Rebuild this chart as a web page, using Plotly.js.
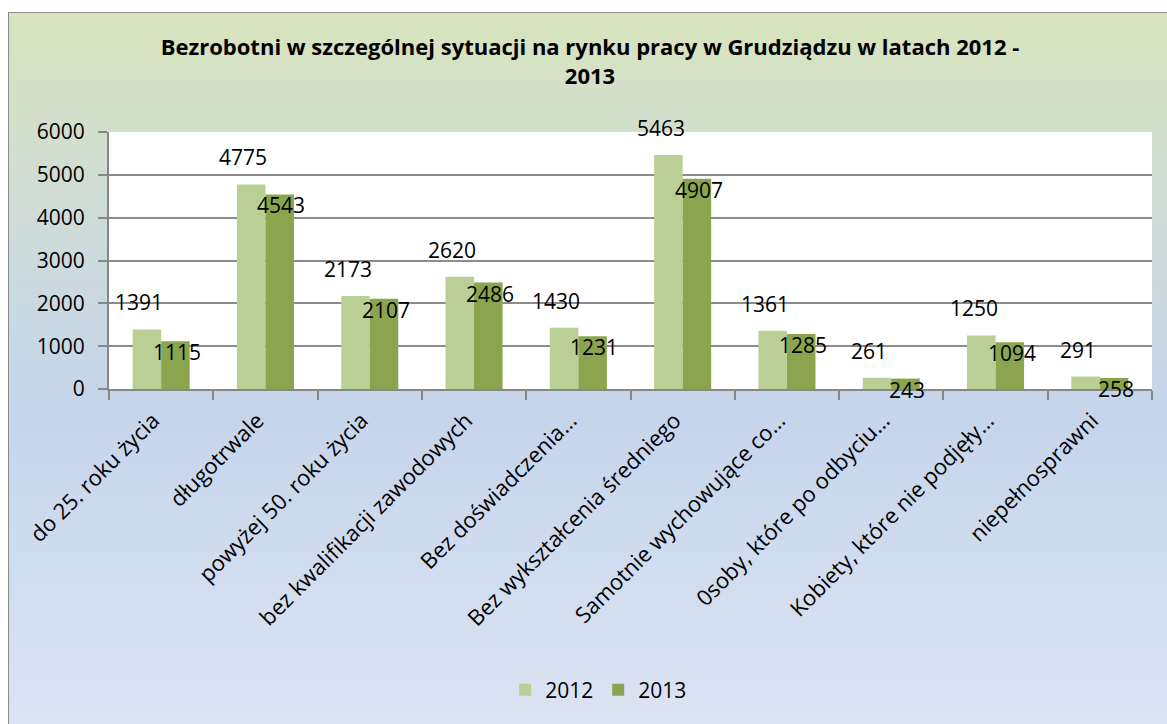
<!DOCTYPE html>
<html>
<head>
<meta charset="utf-8">
<script src="https://cdn.plot.ly/plotly-3.0.1.min.js"></script>
<style>
  html, body { margin:0; padding:0; width:1167px; height:724px; overflow:hidden; background:#ffffff; }
  #bg { position:absolute; left:8px; top:12px; width:1200px; height:760px;
        border:1.5px solid #8a8a8a; box-sizing:border-box;
        background: linear-gradient(to bottom, #d8e4bd 0%, #cfdcd6 25%, #c5d5ec 53%, #dfe6f4 100%); }
  #chart { position:absolute; left:0; top:0; width:1167px; height:724px; }
</style>
</head>
<body>
<div id="bg"></div>
<div id="chart"></div>
<script>
const categories = [
  "do 25. roku życia",
  "długotrwale",
  "powyżej 50. roku życia",
  "bez kwalifikacji zawodowych",
  "Bez doświadczenia…",
  "Bez wykształcenia średniego",
  "Samotnie wychowujące co…",
  "0soby, które po odbyciu…",
  "Kobiety, które nie podjęły…",
  "niepełnosprawni"
];
const values2012 = [1391, 4775, 2173, 2620, 1430, 5463, 1361, 261, 1250, 291];
const values2013 = [1115, 4543, 2107, 2486, 1231, 4907, 1285, 243, 1094, 258];
const seriesNames = ["2012", "2013"];
const yTicks = [0, 1000, 2000, 3000, 4000, 5000, 6000];

const FONT = "'Open Sans', Lato, sans-serif";
const colLight = "#b9cf95";
const colDark = "#8aa54e";

const traces = [
  { type:"bar", name:seriesNames[0], x:categories, y:values2012, marker:{color:colLight}, hoverinfo:"skip" },
  { type:"bar", name:seriesNames[1], x:categories, y:values2013, marker:{color:colDark}, hoverinfo:"skip" }
];

// data labels placed relative to each bar top
const annotations = [];
categories.forEach((c, i) => {
  annotations.push({ x:c, y:values2012[i], xref:"x", yref:"y", text:String(values2012[i]),
    showarrow:false, xanchor:"center", yanchor:"middle", xshift:-22, yshift:27,
    font:{family:FONT, size:21, color:"#000"} });
  annotations.push({ x:c, y:values2013[i], xref:"x", yref:"y", text:String(values2013[i]),
    showarrow:false, xanchor:"center", yanchor:"middle", xshift:16, yshift:-11,
    font:{family:FONT, size:21, color:"#000"} });
});

const layout = {
  width:1167, height:724,
  paper_bgcolor:"rgba(0,0,0,0)",
  plot_bgcolor:"#ffffff",
  margin:{l:109, r:15, t:132, b:335},
  font:{family:FONT, size:21, color:"#000"},
  title:{
    text:"<b>Bezrobotni w szczególnej sytuacji na rynku pracy w Grudziądzu w latach 2012 -<br>2013</b>",
    font:{family:FONT, size:22, color:"#000"},
    x:590/1167, xanchor:"center", xref:"container",
    y:1 - 55/724, yanchor:"middle", yref:"container"
  },
  barmode:"group",
  bargap:0.453,
  bargroupgap:0,
  showlegend:true,
  legend:{
    orientation:"h", xref:"container", yref:"container",
    x:0.513, xanchor:"center", y:1 - 690/724, yanchor:"middle",
    font:{family:FONT, size:21, color:"#000"}, bgcolor:"rgba(0,0,0,0)"
  },
  xaxis:{
    type:"category",
    tickangle:-45,
    tickson:"boundaries",
    ticks:"outside", ticklen:9, tickwidth:2, tickcolor:"#878787",
    showline:true, linecolor:"#878787", linewidth:2,
    showgrid:false,
    ticklabelshift:-8,
    ticklabelstandoff:8,
    tickfont:{family:FONT, size:22, color:"#000"},
    fixedrange:true
  },
  yaxis:{
    range:[0, 6000],
    tickvals:yTicks,
    ticktext:yTicks.map(String),
    ticks:"outside", ticklen:9, tickwidth:2, tickcolor:"#878787",
    showline:true, linecolor:"#878787", linewidth:2,
    showgrid:true, gridcolor:"#8c8c8c", gridwidth:2,
    zeroline:false,
    ticklabelstandoff:9,
    tickfont:{family:FONT, size:21, color:"#000"},
    fixedrange:true
  },
  annotations:annotations
};

Plotly.newPlot("chart", traces, layout, {displayModeBar:false, staticPlot:true});
</script>
</body>
</html>
